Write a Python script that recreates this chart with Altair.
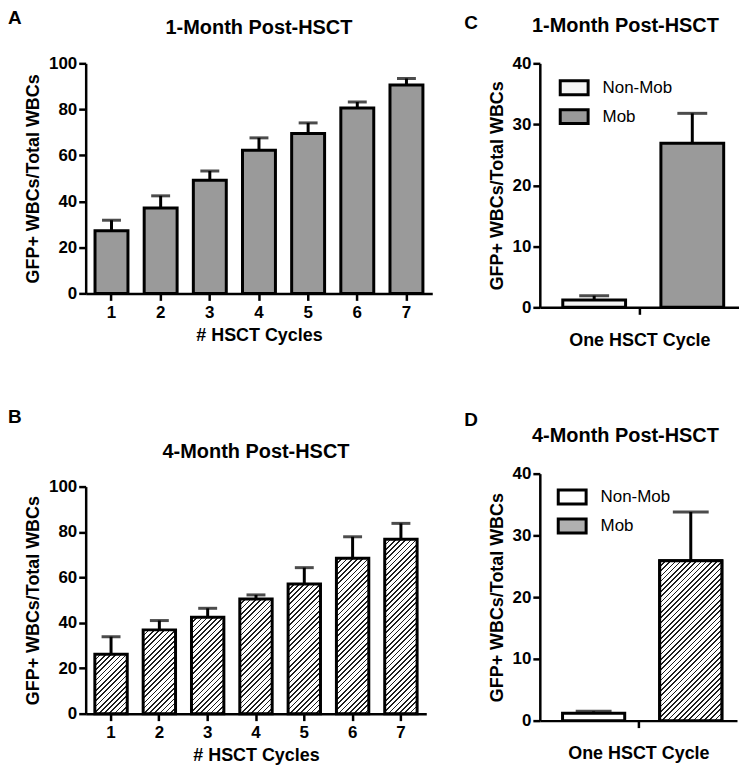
import math
import altair as alt
import pandas as pd

# ---------------- data ----------------
cycle_labels = ["1", "2", "3", "4", "5", "6", "7"]
month1_mean = [27.2, 37.1, 49.2, 62.2, 69.5, 80.6, 90.6]
month1_sem = [4.6, 5.3, 4.0, 5.4, 4.6, 2.6, 2.8]
month4_mean = [26.2, 36.9, 42.5, 50.5, 57.1, 68.4, 76.8]
month4_sem = [7.7, 4.1, 3.9, 1.8, 7.2, 9.5, 7.0]

groups = ["Non-Mob", "Mob"]
c_mean = [1.2, 26.9]
c_sem = [0.7, 4.9]
d_mean = [1.2, 25.9]
d_sem = [0.3, 7.9]

FONT = "Liberation Sans"
CHECK = "#9a9a9a"      # fine checkerboard texture, seen as grey
HATCH_BG = "#b0b0b0"


def hatch(w, h, period=3.7, line=1.2, ink="#1e1e1e", paper="#ffffff"):
    """Diagonal '///' hatch as a linear gradient in bounding-box units."""
    gx, gy = 1.0 / h, 1.0 / w
    k = (gx + gy) / (gx * gx + gy * gy)
    span = (w + h) / math.sqrt(2)
    stops = []
    i = 0
    while i * period < span:
        a = i * period / span
        b = min((i * period + line) / span, 1.0)
        c = min((i + 1) * period / span, 1.0)
        stops += [alt.GradientStop(offset=a, color=ink),
                  alt.GradientStop(offset=b, color=ink),
                  alt.GradientStop(offset=b, color=paper),
                  alt.GradientStop(offset=c, color=paper)]
        i += 1
    return alt.LinearGradient(gradient="linear", stops=stops,
                              x1=0, y1=0, x2=k * gx, y2=k * gy)


def text_layer(txt, dx, dy, size, align="left", baseline="alphabetic"):
    return alt.Chart(pd.DataFrame({"t": [txt]})).mark_text(
        align=align, baseline=baseline, font=FONT, fontSize=size,
        fontWeight="bold", color="black"
    ).encode(text="t:N", x=alt.value(dx), y=alt.value(dy))


P_IN, P_OUT = 0.33, 0.19


def cycles_panel(mean, sem, heading, letter, width, height, hatched,
                 head_dy, letter_dy):
    df = pd.DataFrame({
        "cycle": cycle_labels,
        "mean": mean,
        "top": [m + s for m, s in zip(mean, sem)],
    })
    xs = alt.Scale(domain=cycle_labels, paddingInner=P_IN, paddingOuter=P_OUT)
    ys = alt.Scale(domain=[0, 100], nice=False)
    x = alt.X("cycle:N", scale=xs, sort=cycle_labels,
              axis=alt.Axis(title="# HSCT Cycles", labelAngle=0,
                            labelPadding=4, titlePadding=6))
    y = alt.Y("mean:Q", scale=ys,
              axis=alt.Axis(title="GFP+ WBCs/Total WBCs",
                            values=[0, 20, 40, 60, 80, 100]))
    base = alt.Chart(df)
    layers = []
    if hatched:
        step = width / (len(cycle_labels) - P_IN + 2 * P_OUT)
        bw = step * (1 - P_IN)
        for c, m in zip(cycle_labels, mean):
            layers.append(
                base.transform_filter(alt.datum.cycle == c).mark_bar(
                    fill=hatch(bw, m / 100 * height), stroke="black",
                    strokeWidth=3).encode(x=x, y=y))
    else:
        layers.append(base.mark_bar(fill=CHECK, stroke="black",
                                    strokeWidth=3).encode(x=x, y=y))
    stem = base.mark_rule(color="black", strokeWidth=3).encode(
        x="cycle:N", y="mean:Q", y2="top:Q")
    cap = base.mark_tick(color="black", thickness=3, size=19,
                         orient="horizontal").encode(x="cycle:N", y="top:Q")
    head = text_layer(heading, width / 2, head_dy, 20, align="center",
                      baseline="middle")
    let = text_layer(letter, -78, letter_dy, 19)
    return alt.layer(*layers, stem, cap, head, let).properties(
        width=width, height=height)


X_IN, X_OUT = 0.36, 0.195


def mob_panel(mean, sem, heading, letter, width, height, fills, hatched,
              head_dx, head_dy, letter_dy, legend_x, legend_y, cap_size):
    df = pd.DataFrame({
        "cyc": ["One HSCT Cycle"] * 2,
        "group": groups,
        "mean": mean,
        "top": [m + s for m, s in zip(mean, sem)],
    })
    x = alt.X("cyc:N", scale=alt.Scale(paddingInner=0, paddingOuter=0),
              axis=alt.Axis(title="One HSCT Cycle", labels=False,
                            titlePadding=16))
    xo = alt.XOffset("group:N", sort=groups,
                     scale=alt.Scale(domain=groups, paddingInner=X_IN,
                                     paddingOuter=X_OUT, align=0.6))
    y = alt.Y("mean:Q", scale=alt.Scale(domain=[0, 40], nice=False),
              axis=alt.Axis(title="GFP+ WBCs/Total WBCs",
                            values=[0, 10, 20, 30, 40]))
    fill = alt.Fill("group:N", sort=groups,
                    scale=alt.Scale(domain=groups, range=fills),
                    legend=alt.Legend(
                        title=None, orient="none", legendX=legend_x,
                        legendY=legend_y,
                        symbolType="M-1,-0.5H1V0.5H-1Z", symbolSize=784,
                        symbolStrokeColor="black", symbolStrokeWidth=3,
                        labelFont=FONT, labelFontSize=17,
                        labelFontWeight="normal", labelColor="black",
                        labelOffset=13, rowPadding=0))
    base = alt.Chart(df)
    layers = [base.mark_bar(stroke="black", strokeWidth=3).encode(
        x=x, xOffset=xo, y=y, fill=fill)]
    if hatched:
        step = width / (len(groups) - X_IN + 2 * X_OUT)
        bw = step * (1 - X_IN)
        m = mean[groups.index("Mob")]
        layers.append(
            base.transform_filter(alt.datum.group == "Mob").mark_bar(
                fill=hatch(bw, m / 40 * height), stroke="black",
                strokeWidth=3).encode(x=x, xOffset=xo, y=y))
    stem = base.mark_rule(color="black", strokeWidth=3).encode(
        x="cyc:N", xOffset=xo, y="mean:Q", y2="top:Q")
    cap = base.mark_tick(color="black", thickness=3, size=cap_size,
                         orient="horizontal").encode(
        x="cyc:N", xOffset=xo, y="top:Q")
    head = text_layer(heading, head_dx, head_dy, 20, align="center",
                      baseline="middle")
    let = text_layer(letter, -76, letter_dy, 19)
    return alt.layer(*layers, stem, cap, head, let).properties(
        width=width, height=height)


A = cycles_panel(month1_mean, month1_sem, "1-Month Post-HSCT", "A",
                 348, 231, False, -35, -39)
B = cycles_panel(month4_mean, month4_sem, "4-Month Post-HSCT", "B",
                 342, 228, True, -35, -64)
C = mob_panel(c_mean, c_sem, "1-Month Post-HSCT", "C", 200, 245,
              ["#f4f4f4", CHECK], False, 86, -37, -34, 19, 9, 30)
D = mob_panel(d_mean, d_sem, "4-Month Post-HSCT", "D", 198, 248,
              ["#ffffff", HATCH_BG], True, 86, -38, -48, 17, 8, 36)

res = dict(x="independent", y="independent", fill="independent",
           xOffset="independent")
left = alt.vconcat(A, B, spacing=64).resolve_scale(**res)
right = alt.vconcat(C, D, spacing=61).resolve_scale(**res)

chart = alt.hconcat(left, right, spacing=32).resolve_scale(**res).configure(
    padding=0, font=FONT
).configure_view(stroke=None).configure_axis(
    domainColor="black", domainWidth=2.5, tickColor="black", tickWidth=2.5,
    tickSize=7, labelColor="black", labelFont=FONT, labelFontSize=17,
    labelFontWeight="bold", labelPadding=2, titleColor="black",
    titleFont=FONT, titleFontSize=18, titleFontWeight="bold", grid=False
).configure_axisY(titlePadding=6)

chart.save("out.html", embed_options={"renderer": "svg", "actions": False})
